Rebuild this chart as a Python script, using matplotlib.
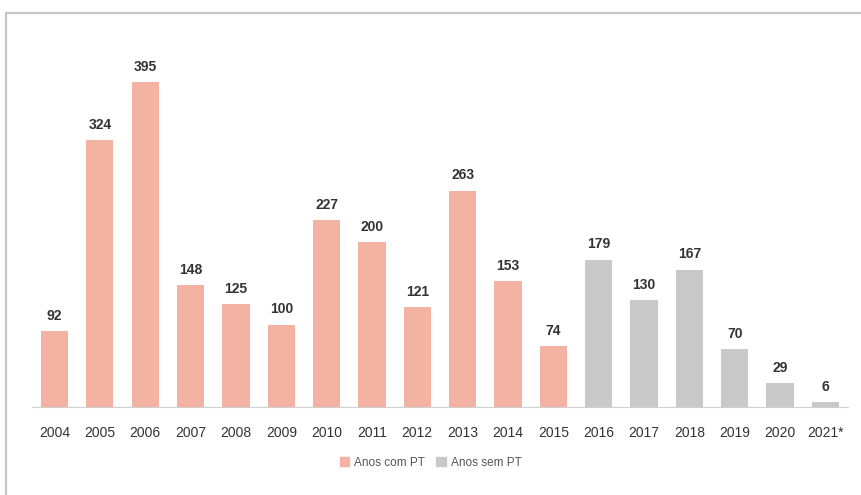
import matplotlib.pyplot as plt
from matplotlib.patches import Rectangle, Patch

anos = ["2004", "2005", "2006", "2007", "2008", "2009", "2010", "2011", "2012",
        "2013", "2014", "2015", "2016", "2017", "2018", "2019", "2020", "2021*"]
valores = [92, 324, 395, 148, 125, 100, 227, 200, 121, 263, 153, 74,
           179, 130, 167, 70, 29, 6]
com_pt = [True] * 12 + [False] * 6

rosa = "#f4b2a2"
cinza = "#c9c9c9"

plt.rcParams['font.family'] = ['Liberation Sans', 'DejaVu Sans']

fig = plt.figure(figsize=(8.61, 4.95), dpi=100)
fig.patch.set_facecolor("white")
# moldura
fig.patches.append(Rectangle((6 / 861, -0.2), 1.2, (495 - 13) / 495 + 0.2,
                             transform=fig.transFigure, fill=False,
                             edgecolor="#c8c8c8", linewidth=1.6))

ax = fig.add_axes([0.037, 0.178, 0.948, 0.698])
cores = [rosa if c else cinza for c in com_pt]
x = range(len(anos))
bars = ax.bar(x, valores, width=0.6, color=cores)

for b, v in zip(bars, valores):
    ax.annotate(str(v), (b.get_x() + b.get_width() / 2, v), xytext=(0, 6),
                textcoords="offset points", ha="center", va="bottom",
                fontsize=10, fontweight="bold", color="#333333")

ax.set_xlim(-0.5, len(anos) - 0.5)
ax.set_ylim(0, 420)
ax.set_xticks(list(x))
ax.set_xticklabels(anos, fontsize=10, color="#333333")
ax.tick_params(axis="x", length=0, pad=14)
ax.set_yticks([])
for s in ["top", "right", "left"]:
    ax.spines[s].set_visible(False)
ax.spines["bottom"].set_color("#d0d0d0")

handles = [Patch(color=rosa, label="Anos com PT"), Patch(color=cinza, label="Anos sem PT")]
fig.legend(handles=handles, loc="center", bbox_to_anchor=(0.5, (495 - 463) / 495),
           ncol=2, frameon=False, fontsize=8.5, handlelength=0.8, handleheight=0.8,
           handletextpad=0.4, columnspacing=1.0, labelcolor="#555555")

fig.savefig("out.png", dpi=100)
